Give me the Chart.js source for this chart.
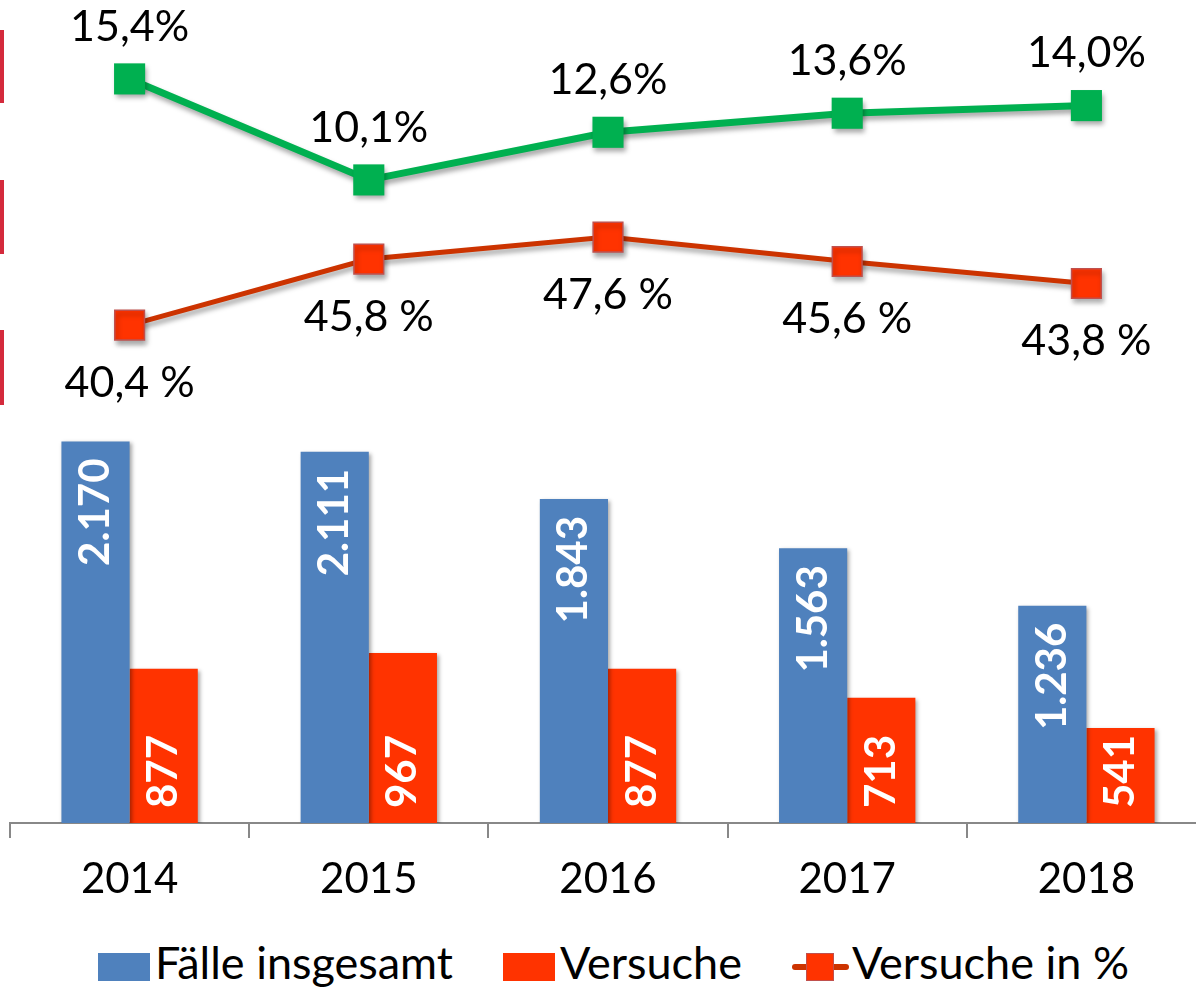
<!DOCTYPE html>
<html lang="de">
<head>
  <meta charset="UTF-8">
  <title>Fälle und Versuche 2014 - 2018</title>
  <script src="https://cdn.jsdelivr.net/npm/chart.js"></script>
  <style>
    body { margin: 0; width: 1196px; height: 988px; overflow: hidden; background: #fff; position: relative; font-family: Lato, sans-serif; }
    #wrap { position: absolute; left: 0; top: 0; width: 1206px; height: 910px; }
    .mark { position: absolute; left: 0; width: 4px; background: #d42a3c; }
    #legend { position: absolute; left: 98px; top: 940px; display: flex; gap: 50px; font-size: 45px; line-height: 45px; color: #000; white-space: nowrap; }
    .item { display: flex; align-items: flex-start; height: 45px; }
    .swatch { width: 52px; height: 28px; margin-top: 13px; margin-right: 5px; }
    .lineSwatch { position: relative; width: 57px; height: 28px; margin-top: 13px; margin-right: 3px; }
    .lineSwatch .bar { position: absolute; left: 0; right: 0; top: 11px; height: 6px; border-radius: 3px; }
    .lineSwatch .sq { position: absolute; left: 14px; top: 0; width: 26px; height: 26px; border: 1px solid #c0504d; }
  </style>
</head>
<body>

  <div class="mark" style="top:30px;height:73px"></div>
  <div class="mark" style="top:180px;height:74px"></div>
  <div class="mark" style="top:330px;height:75px"></div>

  <div id="wrap"><canvas id="chart" width="1206" height="910"></canvas></div>
  <div id="legend"></div>

  <script>
    // data
    const jahre = ['2014', '2015', '2016', '2017', '2018'];
    const faelleInsgesamt = [2170, 2111, 1843, 1563, 1236];
    const versuche = [877, 967, 877, 713, 541];
    const versucheProzent = [40.4, 45.8, 47.6, 45.6, 43.8];
    const quoteProzent = [15.4, 10.1, 12.6, 13.6, 14.0];

    const de1 = v => v.toLocaleString('de-DE', { minimumFractionDigits: 1, maximumFractionDigits: 1 });

    // draws the value labels and the soft Excel-like shadows
    const valueLabels = {
      id: 'valueLabels',
      beforeDatasetDraw(chart, args) {
        const ctx = chart.ctx;
        const isLine = chart.data.datasets[args.index].type === 'line';
        ctx.save();
        ctx.shadowColor = 'rgba(0,0,0,0.35)';
        ctx.shadowBlur = isLine ? 5 : 4;
        ctx.shadowOffsetX = 2;
        ctx.shadowOffsetY = isLine ? 4 : 2;
      },
      afterDatasetDraw(chart) {
        chart.ctx.restore();
      },
      afterDatasetsDraw(chart) {
        const ctx = chart.ctx;
        chart.data.datasets.forEach((ds, i) => {
          const meta = chart.getDatasetMeta(i);
          meta.data.forEach((el, j) => {
            const text = ds.fmt(ds.data[j]);
            ctx.save();
            if (ds.type === 'bar') {
              ctx.font = 'bold 42px Lato';
              ctx.fillStyle = '#fff';
              ctx.textBaseline = 'middle';
              if (ds.labelAt === 'end') {
                ctx.translate(el.x, el.y + 17);
                ctx.textAlign = 'right';
              } else {
                ctx.translate(el.x, el.base - 15);
                ctx.textAlign = 'left';
              }
              ctx.rotate(-Math.PI / 2);
              ctx.fillText(text, 0, 0);
            } else {
              ctx.font = '43px Lato';
              ctx.fillStyle = '#000';
              ctx.textAlign = 'center';
              ctx.textBaseline = 'middle';
              ctx.fillText(text, el.x, el.y + ds.labelOffset);
            }
            ctx.restore();
          });
        });
      }
    };

    const ctx = document.getElementById('chart').getContext('2d');
    const chart = new Chart(ctx, {
      data: {
        labels: jahre,
        datasets: [
          {
            type: 'line',
            label: 'Quote in %',
            data: quoteProzent,
            yAxisID: 'yQuote',
            borderColor: '#00b050',
            borderWidth: 7,
            backgroundColor: '#00b050',
            pointStyle: 'rect',
            pointRadius: 22,
            pointBorderWidth: 0,
            order: 0,
            inLegend: false,
            labelOffset: -52,
            fmt: v => de1(v) + '%'
          },
          {
            type: 'line',
            label: 'Versuche in %',
            data: versucheProzent,
            yAxisID: 'yProzent',
            borderColor: '#cc3300',
            borderWidth: 5,
            pointBackgroundColor: '#ff3300',
            pointBorderColor: '#c0504d',
            pointBorderWidth: 1.5,
            pointStyle: 'rect',
            pointRadius: 21,
            order: 1,
            inLegend: true,
            labelOffset: 58,
            fmt: v => de1(v) + ' %'
          },
          {
            type: 'bar',
            label: 'Fälle insgesamt',
            data: faelleInsgesamt,
            yAxisID: 'y',
            backgroundColor: '#4f81bd',
            order: 2,
            inLegend: true,
            labelAt: 'end',
            fmt: v => v.toLocaleString('de-DE')
          },
          {
            type: 'bar',
            label: 'Versuche',
            data: versuche,
            yAxisID: 'y',
            backgroundColor: '#ff3300',
            order: 3,
            inLegend: true,
            labelAt: 'base',
            fmt: v => v.toLocaleString('de-DE')
          }
        ]
      },
      options: {
        responsive: false,
        animation: false,
        layout: { autoPadding: false, padding: { left: 10, right: 0, top: 0, bottom: 0 } },
        datasets: { bar: { categoryPercentage: 0.57, barPercentage: 1 } },
        plugins: { legend: { display: false }, tooltip: { enabled: false } },
        scales: {
          x: {
            offset: true,
            grid: { display: true, drawOnChartArea: false, drawTicks: true, tickLength: 15, color: '#888', lineWidth: 2, offset: true },
            border: { display: true, color: '#888', width: 2 },
            ticks: { color: '#000', font: { family: 'Lato', size: 42 }, padding: 16 },
            afterFit: s => { s.height = 87; }
          },
          y: { display: false, min: 0, max: 4681 },
          yQuote: { display: false, min: -23.64, max: 19.54 },
          yProzent: { display: false, min: -0.35, max: 67.0 }
        }
      },
      plugins: [valueLabels]
    });

    // legend in the order of the picture: bars first, then the red line
    const legend = document.getElementById('legend');
    const legendOrder = [2, 3, 1];
    legendOrder.forEach(i => {
      const ds = chart.data.datasets[i];
      if (!ds.inLegend) return;
      const item = document.createElement('div');
      item.className = 'item';
      if (ds.type === 'bar') {
        item.innerHTML = '<div class="swatch" style="background:' + ds.backgroundColor + '"></div>';
      } else {
        item.innerHTML = '<div class="lineSwatch"><div class="bar" style="background:' + ds.borderColor +
          '"></div><div class="sq" style="background:' + ds.pointBackgroundColor + '"></div></div>';
      }
      const span = document.createElement('span');
      span.textContent = ds.label;
      item.appendChild(span);
      legend.appendChild(item);
    });
  </script>

</body>
</html>
